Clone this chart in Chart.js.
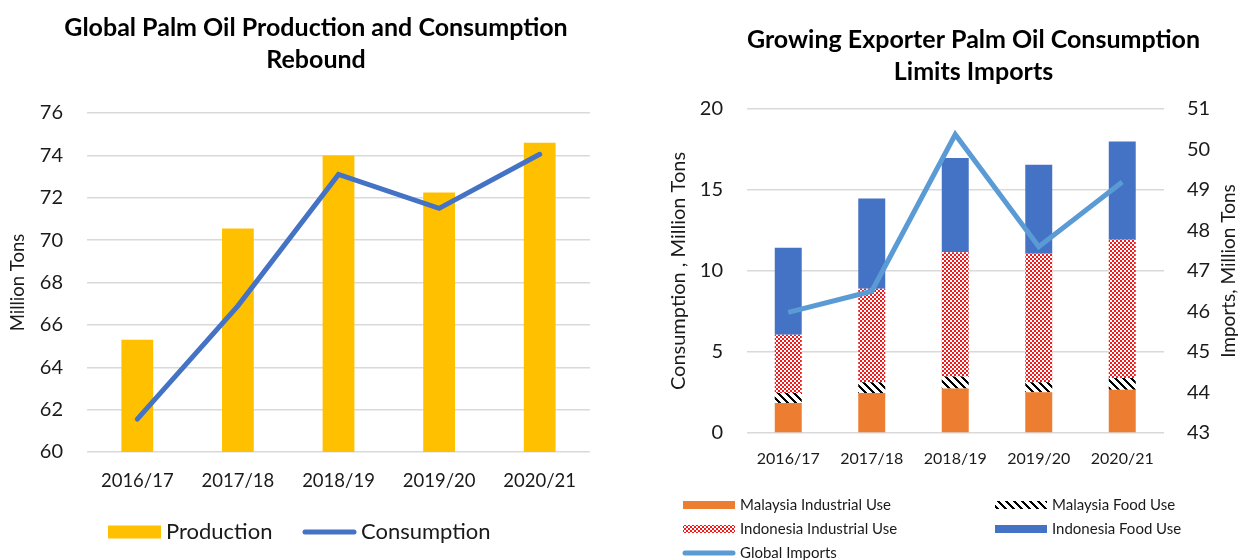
<!DOCTYPE html>
<html>
<head>
<meta charset="utf-8">
<script src="https://cdn.jsdelivr.net/npm/chart.js@4.4.0/dist/chart.umd.min.js"></script>
<style>
  html, body { margin: 0; padding: 0; background: #fff; overflow: hidden; width: 1243px; height: 560px; }
  #left { position: absolute; left: 0; top: 0; }
  #right { position: absolute; left: 640px; top: 0; }
</style>
</head>
<body>
<div id="left"><canvas id="prodChart" width="632" height="560"></canvas></div>
<div id="right"><canvas id="exportChart" width="667" height="560"></canvas></div>
<script>
// seasons shared by both charts
const seasons = ["2016/17", "2017/18", "2018/19", "2019/20", "2020/21"];

// left chart, million tons
const production = [65.3, 70.55, 74.0, 72.25, 74.6];
const consumption = [61.55, 66.9, 73.1, 71.5, 74.05];

// right chart, million tons
const malaysiaIndustrial = [1.85, 2.47, 2.75, 2.51, 2.67];
const malaysiaFood = [0.62, 0.66, 0.74, 0.62, 0.72];
const indonesiaIndustrial = [3.6, 5.77, 7.66, 7.94, 8.54];
const indonesiaFood = [5.37, 5.58, 5.82, 5.49, 6.07];
const globalImports = [45.98, 46.5, 50.37, 47.6, 49.2];

const FONT = "Lato";
const TEXT = "#1a1a1a";
const GRID = "#D9D9D9";

//small canvas tiles for the excel style fills
function checkerPattern() {
    let c = document.createElement("canvas");
    c.width = 4; c.height = 4;
    let g = c.getContext("2d");
    g.fillStyle = "#fff";
    g.fillRect(0, 0, 4, 4);
    g.fillStyle = "#F21B1B";
    g.fillRect(0, 0, 2, 2);
    g.fillRect(2, 2, 2, 2);
    return g.createPattern(c, "repeat");
}

function stripePattern() {
    let c = document.createElement("canvas");
    c.width = 8; c.height = 8;
    let g = c.getContext("2d");
    let img = g.createImageData(8, 8);
    for (let y = 0; y < 8; y++) {
        for (let x = 0; x < 8; x++) {
            let v = ((x - y + 16) % 8) < 3 ? 0 : 255;
            let k = (y * 8 + x) * 4;
            img.data[k] = v; img.data[k + 1] = v; img.data[k + 2] = v; img.data[k + 3] = 255;
        }
    }
    g.putImageData(img, 0, 0);
    return g.createPattern(c, "repeat");
}

//legend drawn as a grid of swatches + labels
const gridLegend = {
    id: "gridLegend",
    afterDraw(chart, args, opts) {
        const ctx = chart.ctx;
        ctx.save();
        ctx.font = opts.font;
        ctx.textBaseline = "middle";
        chart.data.datasets.forEach((ds, i) => {
            let col = i % opts.columns;
            let row = Math.floor(i / opts.columns);
            let x = opts.left + col * opts.colWidth;
            let y = opts.top + row * opts.rowHeight;
            if (ds.type === "line") {
                ctx.strokeStyle = ds.borderColor;
                ctx.lineWidth = opts.lineWidth;
                ctx.lineCap = "round";
                ctx.beginPath();
                ctx.moveTo(x + 2, y);
                ctx.lineTo(x + opts.boxWidth - 2, y);
                ctx.stroke();
            } else {
                ctx.fillStyle = ds.backgroundColor;
                ctx.fillRect(x, y - opts.boxHeight / 2, opts.boxWidth, opts.boxHeight);
            }
            ctx.fillStyle = TEXT;
            ctx.fillText(ds.label, x + opts.boxWidth + opts.gap, y);
        });
        ctx.restore();
    }
};

//excel reads the right axis title bottom-to-top, chart.js would flip it
const rightTitle = {
    id: "rightTitle",
    afterDraw(chart, args, opts) {
        if (!opts.text) return;
        const ctx = chart.ctx;
        const area = chart.chartArea;
        ctx.save();
        ctx.translate(opts.x, (area.top + area.bottom) / 2);
        ctx.rotate(-Math.PI / 2);
        ctx.font = opts.font;
        ctx.fillStyle = TEXT;
        ctx.textAlign = "center";
        ctx.textBaseline = "middle";
        ctx.fillText(opts.text, 0, 0);
        ctx.restore();
    }
};

const titleFont = { family: FONT, size: 25, weight: "bold", lineHeight: 32 / 25 };

///Left chart: production bars + consumption line
new Chart(document.getElementById("prodChart"), {
    type: "bar",
    data: {
        labels: seasons,
        datasets: [{
            label: "Production",
            data: production,
            backgroundColor: "#FFC000",
            categoryPercentage: 1,
            barPercentage: 0.316,
            order: 1
        }, {
            type: "line",
            label: "Consumption",
            data: consumption,
            borderColor: "#4472C4",
            borderWidth: 5,
            pointRadius: 0,
            borderCapStyle: "round",
            order: 0
        }]
    },
    options: {
        responsive: false,
        animation: false,
        layout: { padding: { left: 0, right: 0, top: 0, bottom: 58 } },
        plugins: {
            legend: { display: false },
            tooltip: { enabled: false },
            title: {
                display: true,
                text: ["Global Palm Oil Production and Consumption", "Rebound"],
                color: "#000",
                font: titleFont,
                padding: { top: 12, bottom: 37 }
            },
            gridLegend: {
                left: 108, top: 532, columns: 2, colWidth: 195, rowHeight: 24,
                boxWidth: 53, boxHeight: 13, lineWidth: 5, gap: 5,
                font: "22px " + FONT
            }
        },
        scales: {
            x: {
                grid: { display: false },
                border: { display: false },
                ticks: { color: TEXT, font: { family: FONT, size: 18.5 }, padding: 10 },
                afterFit: s => { s.height = 50; }
            },
            y: {
                min: 60, max: 76,
                ticks: { stepSize: 2, color: TEXT, font: { family: FONT, size: 20 }, padding: 24 },
                grid: { color: GRID, lineWidth: 1.5, drawTicks: false },
                border: { display: false },
                title: {
                    display: true, text: "Million Tons", color: TEXT,
                    font: { family: FONT, size: 18.5 }, padding: { top: 7, bottom: 0 }
                },
                afterFit: s => { s.width = 87; }
            },
            //empty gutter on the right so the title stays centred on the canvas
            gutter: {
                position: "right",
                ticks: { display: false },
                grid: { display: false, drawTicks: false },
                border: { display: false },
                afterFit: s => { s.width = 42; }
            }
        }
    },
    plugins: [gridLegend]
});

///Right chart: stacked use by exporter + global imports on 2nd axis
new Chart(document.getElementById("exportChart"), {
    type: "bar",
    data: {
        labels: seasons,
        datasets: [{
            label: "Malaysia Industrial Use",
            data: malaysiaIndustrial,
            backgroundColor: "#ED7D31",
            order: 1
        }, {
            label: "Malaysia Food Use",
            data: malaysiaFood,
            backgroundColor: stripePattern(),
            order: 1
        }, {
            label: "Indonesia Industrial Use",
            data: indonesiaIndustrial,
            backgroundColor: checkerPattern(),
            order: 1
        }, {
            label: "Indonesia Food Use",
            data: indonesiaFood,
            backgroundColor: "#4472C4",
            order: 1
        }, {
            type: "line",
            label: "Global Imports",
            data: globalImports,
            yAxisID: "y1",
            borderColor: "#5B9BD5",
            borderWidth: 5,
            pointRadius: 0,
            order: 0
        }]
    },
    options: {
        responsive: false,
        animation: false,
        datasets: { bar: { categoryPercentage: 1, barPercentage: 0.323 } },
        layout: { padding: { left: 0, right: 0, top: 0, bottom: 82 } },
        plugins: {
            legend: { display: false },
            tooltip: { enabled: false },
            title: {
                display: true,
                text: ["Growing Exporter Palm Oil Consumption", "Limits Imports"],
                color: "#000",
                font: titleFont,
                padding: { top: 24, bottom: 21 }
            },
            gridLegend: {
                left: 43, top: 505, columns: 2, colWidth: 312, rowHeight: 24,
                boxWidth: 52, boxHeight: 8, lineWidth: 5, gap: 5,
                font: "15px " + FONT
            },
            rightTitle: { text: "Imports, Million Tons", x: 589, font: "19px " + FONT }
        },
        scales: {
            x: {
                stacked: true,
                grid: { display: false },
                border: { display: false },
                ticks: { color: TEXT, font: { family: FONT, size: 16 }, padding: 8 },
                afterFit: s => { s.height = 45; }
            },
            y: {
                stacked: true,
                min: 0, max: 20,
                ticks: { stepSize: 5, color: TEXT, font: { family: FONT, size: 20 }, padding: 23.5 },
                grid: { color: GRID, lineWidth: 1.5, drawTicks: false },
                border: { display: false },
                title: {
                    display: true, text: "Consumption , Million Tons", color: TEXT,
                    font: { family: FONT, size: 20 }, padding: { top: 27, bottom: 0 }
                },
                afterFit: s => { s.width = 106.5; }
            },
            y1: {
                position: "right",
                min: 43, max: 51,
                ticks: { stepSize: 1, color: TEXT, font: { family: FONT, size: 20 }, padding: 23 },
                grid: { display: false, drawTicks: false },
                border: { display: false },
                afterFit: s => { s.width = 143; }
            }
        }
    },
    plugins: [gridLegend, rightTitle]
});
</script>
</body>
</html>
